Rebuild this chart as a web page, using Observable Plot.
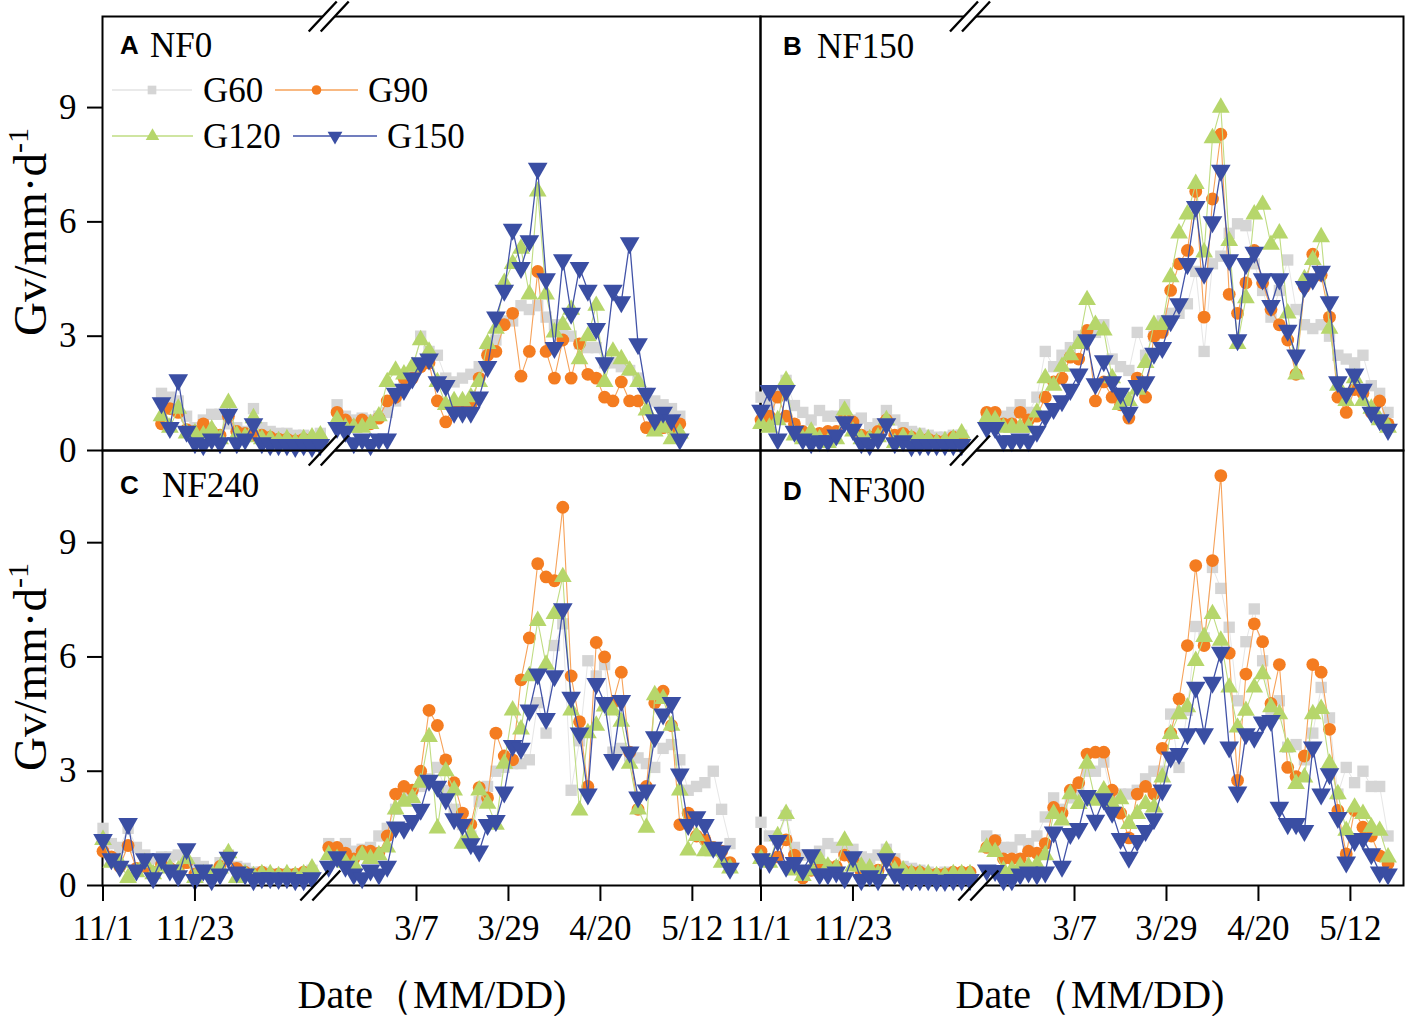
<!DOCTYPE html>
<html><head><meta charset="utf-8">
<script src="https://cdn.jsdelivr.net/npm/d3@7"></script>
<script src="https://cdn.jsdelivr.net/npm/@observablehq/plot@0.6"></script>
<style>
body{margin:0;background:#fff;}
#fig{position:relative;width:1418px;height:1016px;overflow:hidden;background:#fff;}
#fig svg{position:absolute;}
</style></head><body><div id="fig"></div>
<script>
// ---------------- data ----------------
const seriesNames = ["G60", "G90", "G120", "G150"];
const panelTags = ["A", "B", "C", "D"];
const panelNames = ["NF0", "NF150", "NF240", "NF300"];
const tickDays = [0, 22, 75, 97, 119, 141];          // positions on the broken axis (days since 11/1, minus the hidden span)
const tickLabels = ["11/1", "11/23", "3/7", "3/29", "4/20", "5/12"];
const yTicks = [0, 3, 6, 9];
const GAP = 51;   // days hidden by the axis break
const STEP = 2;   // days between plotted values
// first day (since 11/1) of the winter run and of the spring run
const startNF0 = [14, 107], startNF150 = [0, 105], startNF240 = [0, 105], startNF300 = [0, 105];

// NF0
const nf0_w_G60  = [1.5,1.4,1.3,0.9,0.6,0.8,0.95,0.95,0.7,0.6,0.5,1.1,0.6,0.5,0.45,0.45,0.4,0.4,0.35,0.45];
const nf0_w_G90  = [0.7,1.1,1.0,0.55,0.5,0.7,0.5,0.4,0.9,0.5,0.45,0.4,0.4,0.35,0.3,0.3,0.25,0.3,0.25,0.3];
const nf0_w_G120 = [0.9,0.6,1.1,0.45,0.45,0.4,0.55,0.3,1.25,0.4,0.35,0.85,0.3,0.3,0.25,0.3,0.2,0.3,0.35,0.4];
const nf0_w_G150 = [1.25,0.6,1.85,0.5,0.2,0.15,0.3,0.2,0.95,0.2,0.3,0.7,0.2,0.15,0.15,0.15,0.1,0.15,0.1,0.15];
const nf0_s_G60  = [1.2,0.9,0.8,0.85,0.8,0.9,1.0,1.3,1.8,2.0,3.0,2.6,2.5,1.9,1.8,1.9,2.0,2.2,2.6,2.9,3.4,3.4,3.8,3.7,3.8,3.5,3.3,3.2,3.0,2.8,2.7,2.7,2.3,2.3,2.2,2.1,1.9,1.5,1.3,1.2,1.1,0.9];
const nf0_s_G90  = [1.0,0.8,0.65,0.8,0.7,0.85,1.3,1.4,1.9,1.9,2.2,2.3,1.3,0.75,1.2,1.1,1.2,1.9,2.5,2.6,3.3,3.6,1.95,2.6,4.7,2.6,1.9,2.9,1.9,2.8,2.0,1.9,1.4,1.3,1.8,1.3,1.3,0.6,0.7,0.6,0.6,0.7];
const nf0_s_G120 = [0.8,0.6,0.6,0.6,0.7,0.9,1.8,2.1,2.0,2.2,2.9,2.6,1.8,1.2,1.3,1.3,1.4,1.8,2.8,3.2,4.4,4.9,5.3,4.1,6.8,4.1,3.1,3.3,3.7,2.4,3.0,3.8,1.8,2.6,2.4,2.1,1.8,1.05,0.5,0.6,0.3,0.45];
const nf0_s_G150 = [0.6,0.5,0.2,0.3,0.15,0.3,0.3,1.5,1.6,1.9,2.3,2.4,1.8,1.7,1.0,1.0,1.0,1.4,2.2,3.5,4.2,5.8,4.8,5.5,7.4,4.5,2.7,5.0,3.6,4.8,4.2,3.2,2.3,4.2,3.9,5.45,2.8,1.5,0.8,1.0,0.8,0.3];
// NF150
const nf150_w_G60  = [1.4,1.2,1.5,1.84,1.18,1.0,0.8,1.05,0.9,0.9,1.2,0.8,0.85,0.6,0.7,1.05,0.8,0.6,0.5,0.45,0.4,0.35,0.35,0.4,0.4];
const nf150_w_G90  = [0.8,0.9,1.4,0.9,0.7,0.5,0.4,0.45,0.5,0.5,0.9,0.75,0.4,0.35,0.5,0.8,0.4,0.45,0.35,0.3,0.3,0.25,0.25,0.35,0.3];
const nf150_w_G120 = [0.7,0.6,0.8,1.84,0.4,0.3,0.5,0.3,0.2,0.3,1.05,0.5,0.3,0.3,0.35,0.8,0.2,0.35,0.3,0.35,0.3,0.2,0.25,0.3,0.45];
const nf150_w_G150 = [1.05,1.57,0.3,1.57,0.5,0.3,0.2,0.25,0.25,0.4,0.75,0.55,0.2,0.15,0.3,0.7,0.2,0.25,0.12,0.15,0.15,0.15,0.15,0.15,0.15];
const nf150_s_G60  = [0.8,0.9,0.9,1.0,1.2,1.0,1.4,2.6,2.2,2.5,2.7,3.0,3.1,3.1,3.3,2.4,2.2,2.1,3.1,2.5,3.0,3.4,3.6,3.6,3.85,4.7,2.6,4.9,5.1,5.7,5.95,5.9,4.9,4.2,3.5,4.2,5.0,3.7,3.3,3.2,3.3,3.0,2.5,2.4,2.3,2.5,1.7,1.5,1.0];
const nf150_s_G90  = [1.0,1.0,0.7,0.7,1.0,0.8,0.9,1.4,1.8,1.9,2.45,2.4,3.15,1.3,1.8,1.4,1.2,0.85,1.9,1.4,3.0,3.1,4.2,4.9,5.25,6.8,3.5,6.6,8.3,4.1,3.6,4.4,5.25,4.4,3.7,3.3,2.9,2.0,4.3,5.15,4.6,3.5,1.4,1.0,1.6,1.5,1.0,1.3,0.7];
const nf150_s_G120 = [0.85,0.8,0.6,0.6,0.6,0.6,1.0,1.9,1.7,2.2,2.5,2.8,3.95,3.3,3.15,1.9,1.2,1.3,1.6,2.3,3.3,3.3,4.55,5.7,6.2,7.0,5.2,8.2,9.0,5.5,2.8,4.0,6.2,6.45,5.4,5.7,3.6,2.0,4.5,5.0,5.6,3.2,1.7,1.3,1.9,1.3,1.1,0.8,0.6];
const nf150_s_G150 = [0.6,0.6,0.25,0.25,0.3,0.25,0.5,0.9,1.1,1.3,1.6,2.0,2.9,1.75,2.35,1.8,1.5,1.0,1.7,1.8,2.55,2.7,3.4,3.85,4.9,6.4,4.65,6.0,7.35,5.0,2.9,4.9,5.2,4.5,3.8,4.5,3.15,2.5,4.3,4.5,4.7,3.9,1.8,1.5,2.0,1.6,1.0,0.8,0.55];
// NF240
const nf240_w_G60  = [1.5,1.1,1.0,1.5,1.0,0.8,0.7,0.75,0.75,0.8,0.6,0.6,0.5,0.4,0.6,0.8,0.5,0.45,0.35,0.35,0.3,0.3,0.3,0.3,0.3,0.4];
const nf240_w_G90  = [0.9,0.75,0.5,1.05,0.45,0.5,0.35,0.55,0.45,0.4,0.6,0.3,0.35,0.3,0.5,0.8,0.45,0.35,0.3,0.35,0.3,0.3,0.3,0.3,0.35,0.35];
const nf240_w_G120 = [1.2,0.6,0.6,0.2,0.35,0.6,0.3,0.5,0.45,0.4,0.7,0.2,0.3,0.3,0.45,0.85,0.2,0.3,0.25,0.3,0.3,0.25,0.3,0.25,0.3,0.45];
const nf240_w_G150 = [1.2,0.7,0.5,1.62,0.4,0.7,0.2,0.7,0.4,0.25,0.96,0.15,0.4,0.15,0.3,0.74,0.35,0.3,0.15,0.2,0.2,0.18,0.2,0.15,0.15,0.2];
const nf240_s_G60  = [1.1,1.0,1.1,0.9,0.95,1.0,1.3,1.5,2.0,2.3,2.5,2.6,2.8,3.1,2.5,2.0,1.6,1.3,2.2,2.6,3.0,3.1,3.2,3.2,3.3,4.8,4.0,6.3,6.87,2.5,3.8,5.9,5.5,5.8,3.5,3.6,3.4,3.35,3.2,3.1,3.6,3.7,3.3,2.5,2.6,2.7,3.0,2.0,1.1];
const nf240_s_G90  = [1.0,1.0,0.85,0.7,0.9,0.9,0.85,1.3,2.4,2.6,2.5,3.0,4.6,4.2,3.3,2.7,1.9,1.6,2.57,2.3,4.0,3.4,3.3,5.4,6.5,8.45,8.1,8.0,9.93,5.5,4.3,2.6,6.38,6.0,4.8,5.6,3.5,2.0,2.6,4.8,5.1,4.2,1.6,1.9,1.3,1.2,1.0,0.9,0.6];
const nf240_s_G120 = [0.8,0.7,0.6,0.55,0.8,0.7,0.8,1.0,2.0,2.2,2.3,2.7,3.9,1.5,3.0,2.5,1.1,1.35,2.5,2.15,1.6,3.2,4.6,4.1,5.5,6.95,5.8,7.13,8.1,4.6,1.97,4.0,4.2,4.7,4.6,4.3,3.2,2.0,1.52,5.0,4.9,4.2,2.5,0.92,1.3,0.9,0.9,0.6,0.45];
const nf240_s_G150 = [0.5,0.75,0.5,0.3,0.2,0.4,0.3,0.5,1.53,1.5,1.7,2.0,2.76,2.6,2.27,1.75,1.6,1.09,0.9,1.6,1.7,2.45,3.67,3.6,4.6,5.55,4.38,5.5,7.26,4.94,4.0,2.4,5.3,4.8,3.3,4.85,3.5,2.32,2.5,3.9,4.5,4.8,2.92,1.6,1.8,1.6,1.0,0.9,0.45];
// NF300
const nf300_w_G60  = [1.66,1.3,1.2,1.84,1.0,0.8,0.8,0.9,1.1,1.0,0.9,0.95,0.75,0.7,0.8,0.95,0.7,0.5,0.45,0.4,0.35,0.3,0.35,0.3,0.3,0.3];
const nf300_w_G90  = [0.9,0.6,0.75,1.2,0.8,0.2,0.4,0.6,0.5,0.5,0.8,0.7,0.35,0.35,0.4,0.7,0.6,0.4,0.35,0.35,0.3,0.3,0.3,0.35,0.35,0.35];
const nf300_w_G120 = [0.7,0.6,1.3,1.88,0.4,0.25,0.4,0.7,0.5,0.45,1.18,0.5,0.5,0.45,0.3,0.92,0.4,0.4,0.3,0.3,0.3,0.25,0.25,0.3,0.3,0.3];
const nf300_w_G150 = [0.7,0.6,1.18,0.5,0.6,0.4,0.8,0.3,0.3,0.35,0.2,0.75,0.15,0.25,0.15,0.7,0.3,0.15,0.15,0.15,0.15,0.13,0.13,0.15,0.15,0.15];
const nf300_s_G60  = [1.3,1.2,1.0,1.0,1.2,1.1,1.3,1.8,2.3,2.0,2.3,2.5,3.0,3.0,3.24,2.3,2.4,2.4,2.5,2.8,3.0,3.0,4.5,3.1,4.6,6.8,6.5,8.35,7.8,6.78,4.85,6.4,7.26,5.9,4.6,4.85,3.63,3.7,3.3,4.0,5.2,4.4,2.4,3.1,2.7,3.0,2.6,2.6,1.3];
const nf300_s_G90  = [1.0,1.18,0.7,0.7,0.7,0.9,0.85,1.1,2.05,1.9,2.5,2.7,3.45,3.5,3.5,2.5,1.9,1.25,2.4,2.6,2.4,3.6,4.0,4.9,6.3,8.4,6.3,8.53,10.76,6.1,2.76,5.55,6.87,6.4,4.78,5.8,3.1,2.86,3.4,5.8,5.6,4.1,1.97,0.83,1.97,1.53,1.3,0.78,0.57];
const nf300_s_G120 = [1.0,0.88,0.4,0.4,0.5,0.5,0.55,0.8,1.88,1.71,2.4,2.14,3.2,2.23,2.5,2.14,2.27,1.62,1.88,2.14,2.05,2.84,3.98,4.5,4.68,5.9,6.53,7.13,6.43,5.2,4.15,4.59,5.2,5.55,4.68,4.5,3.63,2.67,2.84,4.5,4.64,3.2,2.4,1.44,2.05,1.88,1.53,1.44,0.74];
const nf300_s_G150 = [0.4,0.39,0.15,0.15,0.3,0.35,0.3,0.35,1.4,0.5,1.36,1.49,2.36,1.71,2.27,1.92,1.23,0.74,1.18,1.44,1.75,2.5,3.37,3.46,3.98,5.2,3.98,5.33,6.12,3.63,2.45,3.98,3.89,4.29,4.33,2.05,1.62,1.62,1.44,3.63,2.4,2.93,1.78,0.61,1.18,1.23,0.83,0.35,0.3];

// ---------------- style ----------------
const SERIF = '"Liberation Serif","Times New Roman",serif';
const SANS = '"Liberation Sans",Arial,sans-serif';
const dotFill = ["#d5d5d5", "#f47c20", "#b6d66b", "#3a4ea3"];
const lineStroke = ["#e6e6e6", "#f6a25a", "#bfdc82", "#4253a8"];
const lineW = [1, 1.1, 1.1, 1.3];
const dotSymbol = ["square", "circle", "triangle", "triangle"];
const dotR = [6.4, 6.4, 6.6, 7.3];
const dotRotate = [0, 0, 0, 180];

const panels = [
  {start: startNF0, series: [[nf0_w_G60, nf0_s_G60],[nf0_w_G90, nf0_s_G90],[nf0_w_G120, nf0_s_G120],[nf0_w_G150, nf0_s_G150]],
   left: 0, top: 0, width: 760, height: 450, mL: 102, mR: 0, mT: 16, mB: 0, xmax: 157.3, ymax: 11.39,
   yAxis: true, xAxis: false, breaks: [{c: 54, at: "top"}]},
  {start: startNF150, series: [[nf150_w_G60, nf150_s_G60],[nf150_w_G90, nf150_s_G90],[nf150_w_G120, nf150_s_G120],[nf150_w_G150, nf150_s_G150]],
   left: 760, top: 0, width: 658, height: 450, mL: 0, mR: 15, mT: 16, mB: 0, xmax: 153.7, ymax: 11.39,
   yAxis: false, xAxis: false, breaks: [{c: 50, at: "top"}]},
  {start: startNF240, series: [[nf240_w_G60, nf240_s_G60],[nf240_w_G90, nf240_s_G90],[nf240_w_G120, nf240_s_G120],[nf240_w_G150, nf240_s_G150]],
   left: 0, top: 450, width: 760, height: 566, mL: 102, mR: 0, mT: 0, mB: 131, xmax: 157.3, ymax: 11.42,
   yAxis: true, xAxis: true, breaks: [{c: 54, at: "top"}, {c: 52, at: "bottom"}]},
  {start: startNF300, series: [[nf300_w_G60, nf300_s_G60],[nf300_w_G90, nf300_s_G90],[nf300_w_G120, nf300_s_G120],[nf300_w_G150, nf300_s_G150]],
   left: 760, top: 450, width: 658, height: 566, mL: 0, mR: 15, mT: 0, mB: 131, xmax: 153.7, ymax: 11.42,
   yAxis: false, xAxis: true, breaks: [{c: 50, at: "top"}, {c: 52, at: "bottom"}]}
];

const fig = document.getElementById("fig");

function buildRows(p) {
  const out = [];
  p.series.forEach((segs, s) => {
    segs.forEach((vals, k) => {
      vals.forEach((v, i) => {
        const day = p.start[k] + STEP * i;
        out.push({s, seg: k, c: k ? day - GAP : day, v});
      });
    });
  });
  return out;
}

panels.forEach(p => {
  const rows = buildRows(p);
  const marks = [Plot.frame({stroke: "#000", strokeWidth: 2})];
  for (let s = 0; s < 4; s++) {
    const d = rows.filter(r => r.s === s);
    marks.push(Plot.line(d, {x: "c", y: "v", z: "seg", stroke: lineStroke[s], strokeWidth: lineW[s]}));
    marks.push(Plot.dot(d, {x: "c", y: "v", symbol: dotSymbol[s], r: dotR[s], fill: dotFill[s], stroke: "none", rotate: dotRotate[s]}));
  }
  // axis-break marks
  const br = p.breaks.map(b => ({c: b.c, y: b.at === "top" ? p.ymax : 0}));
  const dx = 14 / 4.18, dy = 15 / 38.1, sep = 6 / 4.18;
  marks.push(Plot.link(br, {x1: d => d.c - 1.3, x2: d => d.c + 1.3, y1: d => d.y - 0.14, y2: d => d.y + 0.14, stroke: "#fff", strokeWidth: 9}));
  for (const o of [-sep, sep]) {
    marks.push(Plot.link(br, {x1: d => d.c + o - dx, x2: d => d.c + o + dx, y1: d => d.y - dy, y2: d => d.y + dy, stroke: "#000", strokeWidth: 2.4}));
  }
  if (p.yAxis) marks.push(Plot.axisY({ticks: yTicks, tickSize: 15, tickPadding: 11, fontSize: 35, strokeWidth: 2, label: null}));
  if (p.xAxis) marks.push(Plot.axisX({ticks: tickDays, tickFormat: d => tickLabels[tickDays.indexOf(d)], tickSize: 16, tickPadding: 14, fontSize: 35, strokeWidth: 2, label: null}));
  const svg = Plot.plot({
    width: p.width, height: p.height,
    marginLeft: p.mL, marginRight: p.mR, marginTop: p.mT, marginBottom: p.mB,
    x: {domain: [-0.12, p.xmax], axis: null},
    y: {domain: [0, p.ymax], axis: null},
    style: {overflow: "visible", background: "transparent", fontFamily: SERIF, color: "#000"},
    marks
  });
  svg.style.left = p.left + "px";
  svg.style.top = p.top + "px";
  fig.appendChild(svg);
});

// ---------------- texts & legend ----------------
const ov = d3.select(fig).append("svg")
  .attr("width", 1418).attr("height", 1016)
  .style("left", "0px").style("top", "0px").style("overflow", "visible");

// panel labels
const tagPos = [[120, 54, 150, 57], [783, 55, 817, 58], [120, 494, 162, 497], [783, 500, 828, 502]];
panelTags.forEach((t, i) => {
  const [tx, ty, nx, ny] = tagPos[i];
  ov.append("text").attr("x", tx).attr("y", ty).attr("font-family", SANS).attr("font-weight", "bold").attr("font-size", 26).text(t);
  ov.append("text").attr("x", nx).attr("y", ny).attr("font-family", SERIF).attr("font-size", 35).text(panelNames[i]);
});

// y titles
[232, 667].forEach(cy => {
  const t = ov.append("text").attr("transform", `translate(46,${cy}) rotate(-90)`)
    .attr("text-anchor", "middle").attr("font-family", SERIF).attr("font-size", 47);
  t.append("tspan").text("Gv/mm·d");
  t.append("tspan").attr("dy", -18).attr("font-size", 30).text("-1");
});

// x titles
[432, 1090].forEach(cx => {
  ov.append("text").attr("x", cx).attr("y", 1008).attr("text-anchor", "middle")
    .attr("font-family", SERIF).attr("font-size", 40).text("Date（MM/DD)");
});

// legend
const legendItems = [
  {s: 0, x1: 112, x2: 192, tx: 203, y: 90},
  {s: 1, x1: 275, x2: 358, tx: 368, y: 90},
  {s: 2, x1: 112, x2: 193, tx: 203, y: 136},
  {s: 3, x1: 293, x2: 377, tx: 387, y: 136}
];
const legSym = [d3.symbolSquare, d3.symbolCircle, d3.symbolTriangle, d3.symbolTriangle];
const legSize = [75, 72, 80, 95];
legendItems.forEach(it => {
  ov.append("line").attr("x1", it.x1).attr("x2", it.x2).attr("y1", it.y).attr("y2", it.y)
    .attr("stroke", it.s === 0 ? "#e3e3e3" : lineStroke[it.s]).attr("stroke-width", 1.6);
  ov.append("path").attr("d", d3.symbol(legSym[it.s], legSize[it.s])())
    .attr("transform", `translate(${(it.x1 + it.x2) / 2},${it.y}) rotate(${dotRotate[it.s]})`)
    .attr("fill", dotFill[it.s]);
  ov.append("text").attr("x", it.tx).attr("y", it.y + 12).attr("font-family", SERIF).attr("font-size", 35).text(seriesNames[it.s]);
});
</script>
</body></html>
